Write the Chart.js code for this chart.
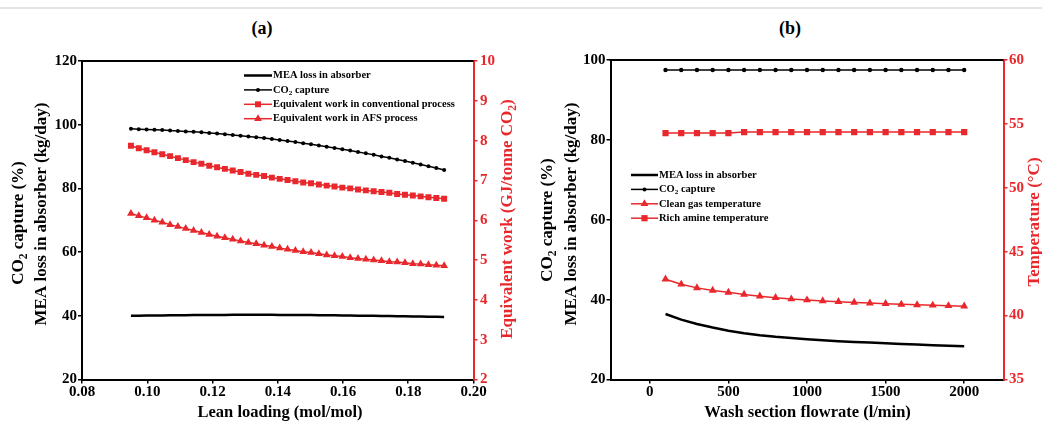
<!DOCTYPE html>
<html><head><meta charset="utf-8">
<script src="https://cdn.jsdelivr.net/npm/chart.js@4/dist/chart.umd.min.js"></script>
<style>
html,body{margin:0;padding:0;background:#fff;overflow:hidden;width:1042px;height:424px;position:relative}
#sep{position:absolute;left:0;top:7px;width:1042px;height:2px;background:#e4e4e4}
.ttl{position:absolute;top:17px;width:80px;text-align:center;font:bold 18px "Liberation Serif","Times New Roman",serif;color:#000;line-height:22px}
.wrap{position:absolute;top:0;width:521px;height:424px}
</style></head>
<body>
<div id="sep"></div>
<div class="ttl" style="left:222px">(a)</div>
<div class="ttl" style="left:750px">(b)</div>
<div class="wrap" style="left:0"><canvas id="ca" width="521" height="424"></canvas></div>
<div class="wrap" style="left:521px"><canvas id="cb" width="521" height="424"></canvas></div>
<script>
// ---------- Data: panel (a) ----------
const leanLoading = [0.0950,0.0974,0.0998,0.1022,0.1046,0.1070,0.1094,0.1118,0.1142,0.1166,0.1190,0.1214,0.1238,0.1262,0.1286,0.1310,0.1334,0.1358,0.1382,0.1406,0.1430,0.1454,0.1478,0.1502,0.1526,0.1550,0.1574,0.1598,0.1622,0.1646,0.1670,0.1694,0.1718,0.1742,0.1766,0.1790,0.1814,0.1838,0.1862,0.1886,0.1910];
const meaLossA = [40.0,40.03,40.06,40.09,40.12,40.15,40.18,40.2,40.22,40.24,40.26,40.28,40.29,40.3,40.31,40.31,40.31,40.31,40.3,40.29,40.28,40.26,40.24,40.22,40.2,40.17,40.14,40.11,40.08,40.05,40.02,39.98,39.95,39.91,39.87,39.83,39.79,39.75,39.71,39.67,39.63];
const co2CaptureA = [98.7,98.6,98.5,98.4,98.3,98.2,98.05,97.9,97.75,97.6,97.4,97.2,97.0,96.8,96.55,96.3,96.05,95.8,95.5,95.2,94.9,94.55,94.2,93.85,93.5,93.1,92.7,92.3,91.9,91.45,91.0,90.55,90.05,89.6,89.1,88.6,88.05,87.5,86.95,86.4,85.8];
const workConventional = [7.87,7.81,7.76,7.71,7.66,7.61,7.56,7.51,7.46,7.42,7.37,7.33,7.29,7.25,7.21,7.17,7.14,7.11,7.07,7.04,7.01,6.98,6.95,6.93,6.90,6.87,6.85,6.82,6.80,6.77,6.75,6.73,6.71,6.69,6.66,6.64,6.62,6.60,6.58,6.56,6.54];
const workAFS = [6.17,6.11,6.06,6.00,5.95,5.89,5.84,5.79,5.74,5.69,5.64,5.60,5.56,5.52,5.48,5.44,5.41,5.37,5.34,5.30,5.27,5.24,5.21,5.19,5.16,5.13,5.11,5.09,5.06,5.04,5.02,5.00,4.98,4.96,4.95,4.93,4.91,4.90,4.88,4.87,4.86];
const xTicksA = [0.08,0.10,0.12,0.14,0.16,0.18,0.20];
const yTicksA = [20,40,60,80,100,120];
const y2TicksA = [2,3,4,5,6,7,8,9,10];

// ---------- Data: panel (b) ----------
const washFlow = [100,200,300,400,500,600,700,800,900,1000,1100,1200,1300,1400,1500,1600,1700,1800,1900,2000];
const meaLossB = [36.4,35.0,33.9,33.0,32.2,31.6,31.1,30.7,30.4,30.1,29.85,29.6,29.4,29.25,29.05,28.9,28.75,28.6,28.45,28.3];
const co2CaptureB = [97.5,97.5,97.5,97.5,97.5,97.5,97.5,97.5,97.5,97.5,97.5,97.5,97.5,97.5,97.5,97.5,97.5,97.5,97.5,97.5];
const cleanGasTemp = [42.85,42.45,42.17,41.97,41.82,41.66,41.52,41.40,41.30,41.22,41.15,41.09,41.03,40.98,40.93,40.88,40.84,40.81,40.77,40.74];
const richAmineTemp = [54.28,54.28,54.28,54.28,54.28,54.36,54.36,54.36,54.36,54.36,54.36,54.36,54.36,54.36,54.36,54.36,54.36,54.36,54.36,54.36];
const xTicksB = [0,500,1000,1500,2000];
const yTicksB = [20,40,60,80,100];
const y2TicksB = [35,40,45,50,55,60];

const SERIF = '"Liberation Serif","Times New Roman",serif';
const RED = '#e8282c';
const BLACK = '#000';

function pts(xs, ys){ return xs.map((x,i)=>({x:x, y:ys[i]})); }

function richWidth(ctx, segs, size){
  let w=0;
  for(const s of segs){ ctx.font = 'bold '+(s.sub?size*0.68:size)+'px '+SERIF; w+=ctx.measureText(s.t).width; }
  return w;
}
function drawRich(ctx, segs, x, y, size, color, align, rot){
  ctx.save();
  ctx.translate(x,y); ctx.rotate(rot||0);
  ctx.fillStyle=color; ctx.textBaseline='middle'; ctx.textAlign='left';
  const w = richWidth(ctx, segs, size);
  let cx = align==='center' ? -w/2 : (align==='right' ? -w : 0);
  for(const s of segs){
    const fs = s.sub?size*0.68:size;
    ctx.font='bold '+fs+'px '+SERIF;
    ctx.fillText(s.t, cx, s.sub? size*0.28 : 0);
    cx += ctx.measureText(s.t).width;
  }
  ctx.restore();
}
function marker(ctx, style, r, x, y, color){
  ctx.save(); ctx.fillStyle=color; ctx.beginPath();
  if(style==='circle'){ ctx.arc(x,y,r,0,Math.PI*2); }
  else if(style==='rect'){ const s=Math.SQRT1_2*r; ctx.rect(x-s,y-s,2*s,2*s); }
  else if(style==='triangle'){ ctx.moveTo(x,y-r); ctx.lineTo(x+r*0.866,y+r*0.5); ctx.lineTo(x-r*0.866,y+r*0.5); ctx.closePath(); }
  ctx.fill(); ctx.restore();
}

const decor = {
  id:'decor',
  afterDraw(chart, args, o){
    const ctx = chart.ctx, a = chart.chartArea;
    ctx.save(); ctx.strokeStyle=BLACK; ctx.lineWidth=2;
    ctx.beginPath(); ctx.moveTo(a.left-1,a.top); ctx.lineTo(a.right,a.top); ctx.stroke(); ctx.restore();
    for(const t of o.titles){ drawRich(ctx, t.segs, t.x, t.y, t.size||17, t.color||BLACK, 'center', t.rot||0); }
    const L = o.legend;
    L.items.forEach((it,i)=>{
      const y = L.y + i*L.dy;
      ctx.save(); ctx.strokeStyle=it.color; ctx.lineWidth=it.lw;
      ctx.beginPath(); ctx.moveTo(L.x, y); ctx.lineTo(L.x+L.len, y); ctx.stroke(); ctx.restore();
      if(it.pt) marker(ctx, it.pt, it.r, L.x+L.len/2, y, it.color);
      drawRich(ctx, it.segs, L.x+L.len+1, y, L.size, BLACK, 'left', 0);
    });
  }
};

function fixedTicks(vals){ return function(scale){ scale.ticks = vals.map(v=>({value:v})); }; }

function scaleCfg(pos, min, max, tickVals, color, size, tl, pad, fmt){
  return {
    type:'linear', position:pos, min:min, max:max,
    afterBuildTicks: fixedTicks(tickVals),
    afterFit: function(s){ if(pos==='left'||pos==='right') s.width=size; else s.height=size; },
    grid:{display:true, drawOnChartArea:false, drawTicks:true, tickLength:tl, color:color, lineWidth:1.5},
    border:{display:true, color:color, width:2},
    ticks:{color:color, padding:pad, font:{family:SERIF, size:15, weight:'bold'}, maxRotation:0, autoSkip:false,
      callback: fmt || function(v){ return String(v); }},
    title:{display:false}
  };
}

function ds(data, opts){
  return Object.assign({data:data, fill:false, tension:0, pointBorderWidth:0, pointHoverRadius:0}, opts);
}

const co2 = [{t:'CO'},{t:'2',sub:true}];

// ---------- Chart (a) ----------
new Chart(document.getElementById('ca'), {
  type:'line',
  data:{ datasets:[
    ds(pts(leanLoading, meaLossA), {yAxisID:'y', borderColor:BLACK, borderWidth:2.5, pointRadius:0}),
    ds(pts(leanLoading, co2CaptureA), {yAxisID:'y', borderColor:BLACK, backgroundColor:BLACK, borderWidth:1.5, pointStyle:'circle', pointRadius:2, pointBackgroundColor:BLACK}),
    ds(pts(leanLoading, workConventional), {yAxisID:'y2', borderColor:RED, backgroundColor:RED, borderWidth:1.5, pointStyle:'rect', pointRadius:4.2, pointBackgroundColor:RED}),
    ds(pts(leanLoading, workAFS), {yAxisID:'y2', borderColor:RED, backgroundColor:RED, borderWidth:1.5, pointStyle:'triangle', pointRadius:4.5, pointBackgroundColor:RED})
  ]},
  options:{
    responsive:false, animation:false, devicePixelRatio:1,
    layout:{padding:{top:61,left:0,right:0,bottom:0}},
    plugins:{legend:{display:false}, tooltip:{enabled:false},
      decor:{
        titles:[
          {segs:[{t:'CO'},{t:'2',sub:true},{t:' capture (%)'}], x:19, y:223, rot:-Math.PI/2},
          {segs:[{t:'MEA loss in absorber (kg/day)'}], x:42, y:214, rot:-Math.PI/2},
          {segs:[{t:'Equivalent work (GJ/tonne CO'},{t:'2',sub:true},{t:')'}], x:508, y:219, rot:-Math.PI/2, color:RED},
          {segs:[{t:'Lean loading (mol/mol)'}], x:280, y:413, size:16.5}
        ],
        legend:{x:244, y:75.5, dy:14.4, len:28, size:10.5, items:[
          {segs:[{t:'MEA loss in absorber'}], color:BLACK, lw:2.5},
          {segs:co2.concat([{t:' capture'}]), color:BLACK, lw:1.5, pt:'circle', r:2},
          {segs:[{t:'Equivalent work in conventional process'}], color:RED, lw:1.5, pt:'rect', r:4.2},
          {segs:[{t:'Equivalent work in AFS process'}], color:RED, lw:1.5, pt:'triangle', r:4.5}
        ]}
      }
    },
    scales:{
      x: scaleCfg('bottom', 0.08, 0.20, xTicksA, BLACK, 44.5, 4, 0, function(v){ return Number(v).toFixed(2); }),
      y: scaleCfg('left', 20, 120, yTicksA, BLACK, 82, 4, 1),
      y2: scaleCfg('right', 2, 10, y2TicksA, RED, 521-473.5, 4, 2.5)
    }
  },
  plugins:[decor]
});

// ---------- Chart (b) ----------
new Chart(document.getElementById('cb'), {
  type:'line',
  data:{ datasets:[
    ds(pts(washFlow, meaLossB), {yAxisID:'y', borderColor:BLACK, borderWidth:2.5, pointRadius:0}),
    ds(pts(washFlow, co2CaptureB), {yAxisID:'y', borderColor:BLACK, backgroundColor:BLACK, borderWidth:1.5, pointStyle:'circle', pointRadius:2.2, pointBackgroundColor:BLACK}),
    ds(pts(washFlow, cleanGasTemp), {yAxisID:'y2', borderColor:RED, backgroundColor:RED, borderWidth:1.5, pointStyle:'triangle', pointRadius:4.6, pointBackgroundColor:RED}),
    ds(pts(washFlow, richAmineTemp), {yAxisID:'y2', borderColor:RED, backgroundColor:RED, borderWidth:1.5, pointStyle:'rect', pointRadius:4.4, pointBackgroundColor:RED})
  ]},
  options:{
    responsive:false, animation:false, devicePixelRatio:1,
    layout:{padding:{top:60,left:0,right:0,bottom:0}},
    plugins:{legend:{display:false}, tooltip:{enabled:false},
      decor:{
        titles:[
          {segs:[{t:'CO'},{t:'2',sub:true},{t:' capture (%)'}], x:27, y:220, rot:-Math.PI/2},
          {segs:[{t:'MEA loss in absorber (kg/day)'}], x:51, y:214, rot:-Math.PI/2},
          {segs:[{t:'Temperature (°C)'}], x:514, y:222, rot:-Math.PI/2, color:RED},
          {segs:[{t:'Wash section flowrate (l/min)'}], x:286.5, y:413, size:16.5}
        ],
        legend:{x:110, y:175, dy:14.4, len:27, size:10.5, items:[
          {segs:[{t:'MEA loss in absorber'}], color:BLACK, lw:2.5},
          {segs:co2.concat([{t:' capture'}]), color:BLACK, lw:1.5, pt:'circle', r:2},
          {segs:[{t:'Clean gas temperature'}], color:RED, lw:1.5, pt:'triangle', r:4.6},
          {segs:[{t:'Rich amine temperature'}], color:RED, lw:1.5, pt:'rect', r:4.4}
        ]}
      }
    },
    scales:{
      x: scaleCfg('bottom', -250, 2250, xTicksB, BLACK, 44.5, 4, 0),
      y: scaleCfg('left', 20, 100, yTicksB, BLACK, 89.5, 4, 1),
      y2: scaleCfg('right', 35, 60, y2TicksB, RED, 521-1003.5+521, 4, 1.5)
    }
  },
  plugins:[decor]
});
</script>
</body></html>
